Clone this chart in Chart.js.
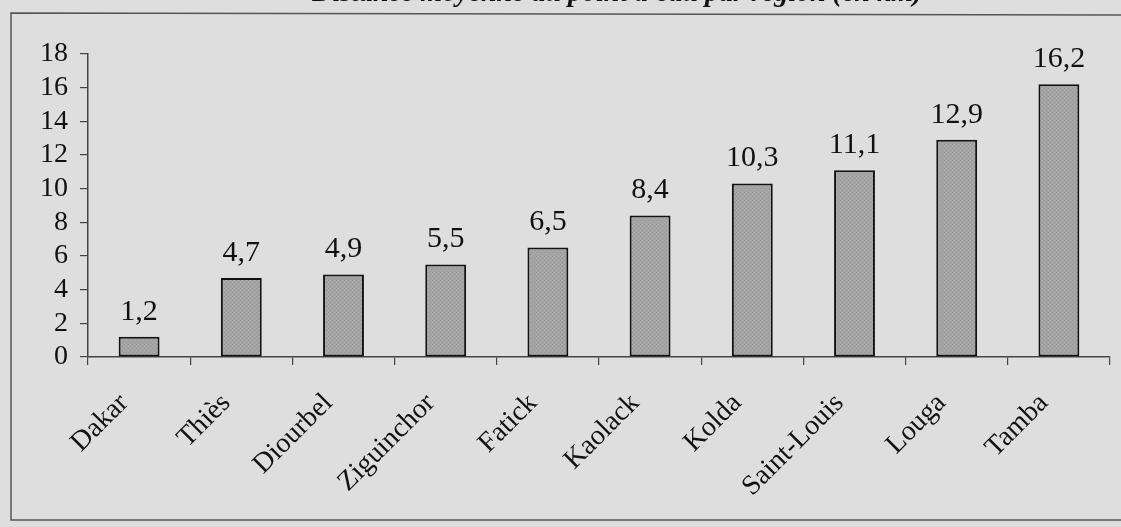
<!DOCTYPE html>
<html>
<head>
<meta charset="utf-8">
<script src="https://cdn.jsdelivr.net/npm/chart.js@4"></script>
<style>
  html, body { margin: 0; padding: 0; background: #dedede; }
  #wrap { width: 1121px; height: 527px; position: relative; }
</style>
</head>
<body>
<div id="wrap"><canvas id="myChart"></canvas></div>
<script>
const regions = ['Dakar', 'Thiès', 'Diourbel', 'Ziguinchor', 'Fatick', 'Kaolack', 'Kolda', 'Saint-Louis', 'Louga', 'Tamba'];
const distances = [1.2, 4.7, 4.9, 5.5, 6.5, 8.4, 10.3, 11.1, 12.9, 16.2];
const titre = 'Distance moyenne au point d\'eau par région (en km)';

const serif = '"Liberation Serif", "Times New Roman", serif';

// cadre + titre (coupé en haut) + valeurs au-dessus des barres
const decor = {
    id: 'decor',
    beforeDraw(chart) {
        const ctx = chart.ctx;
        ctx.save();
        ctx.strokeStyle = '#555';
        ctx.lineWidth = 1.5;
        ctx.beginPath();
        ctx.moveTo(1125, 15);
        ctx.lineTo(11, 13);
        ctx.lineTo(11, 520);
        ctx.lineTo(1125, 520);
        ctx.stroke();
        ctx.font = 'bold italic 28px ' + serif;
        ctx.fillStyle = '#111';
        ctx.textAlign = 'right';
        ctx.textBaseline = 'alphabetic';
        ctx.fillText(titre, 922, 1);
        ctx.restore();
    },
    afterDatasetsDraw(chart) {
        const ctx = chart.ctx;
        const meta = chart.getDatasetMeta(0);
        ctx.save();
        ctx.font = '30px ' + serif;
        ctx.fillStyle = '#111';
        ctx.textAlign = 'center';
        ctx.textBaseline = 'bottom';
        meta.data.forEach((bar, i) => {
            ctx.fillText(String(distances[i]).replace('.', ','), bar.x, bar.y - 10);
        });
        ctx.restore();
    }
};

// texture grise légèrement granuleuse des barres
const pat = document.createElement('canvas');
pat.width = 4; pat.height = 4;
const pctx = pat.getContext('2d');
pctx.fillStyle = '#a3a3a3';
pctx.fillRect(0, 0, 4, 4);
pctx.fillStyle = '#989898';
pctx.fillRect(0, 0, 1, 1);
pctx.fillRect(2, 2, 1, 1);
pctx.fillStyle = '#acacac';
pctx.fillRect(2, 0, 1, 1);
pctx.fillRect(0, 2, 1, 1);
const fillPattern = pctx.createPattern(pat, 'repeat');

const myChart = new Chart(
    document.getElementById('myChart'), {
        type: 'bar',
        data: {
            labels: regions,
            datasets: [{
                data: distances,
                backgroundColor: fillPattern,
                borderColor: '#111',
                borderWidth: 2,
                borderSkipped: false,
                categoryPercentage: 1,
                barPercentage: 0.4
            }]
        },
        options: {
            responsive: true,
            maintainAspectRatio: false,
            animation: false,
            layout: { padding: { top: 54, right: 11, left: 0, bottom: 0 } },
            plugins: {
                legend: { display: false },
                tooltip: { enabled: false }
            },
            scales: {
                x: {
                    afterFit(scale) { scale.height = 170; },
                    grid: {
                        display: true,
                        offset: true,
                        drawOnChartArea: false,
                        tickLength: 8,
                        color: '#444',
                        lineWidth: 1.2
                    },
                    border: { color: '#444', width: 1.5 },
                    ticks: {
                        color: '#111',
                        font: { family: serif, size: 28 },
                        minRotation: 45,
                        maxRotation: 45,
                        autoSkip: false,
                        labelOffset: -15,
                        padding: 22
                    }
                },
                y: {
                    min: 0,
                    max: 18,
                    afterFit(scale) { scale.width = 88; },
                    grid: {
                        display: true,
                        drawOnChartArea: false,
                        tickLength: 8,
                        color: '#444',
                        lineWidth: 1.2
                    },
                    border: { color: '#444', width: 1.5 },
                    ticks: {
                        stepSize: 2,
                        autoSkip: false,
                        color: '#111',
                        font: { family: serif, size: 28 },
                        padding: 12
                    }
                }
            }
        },
        plugins: [decor]
    }
);
</script>
</body>
</html>
